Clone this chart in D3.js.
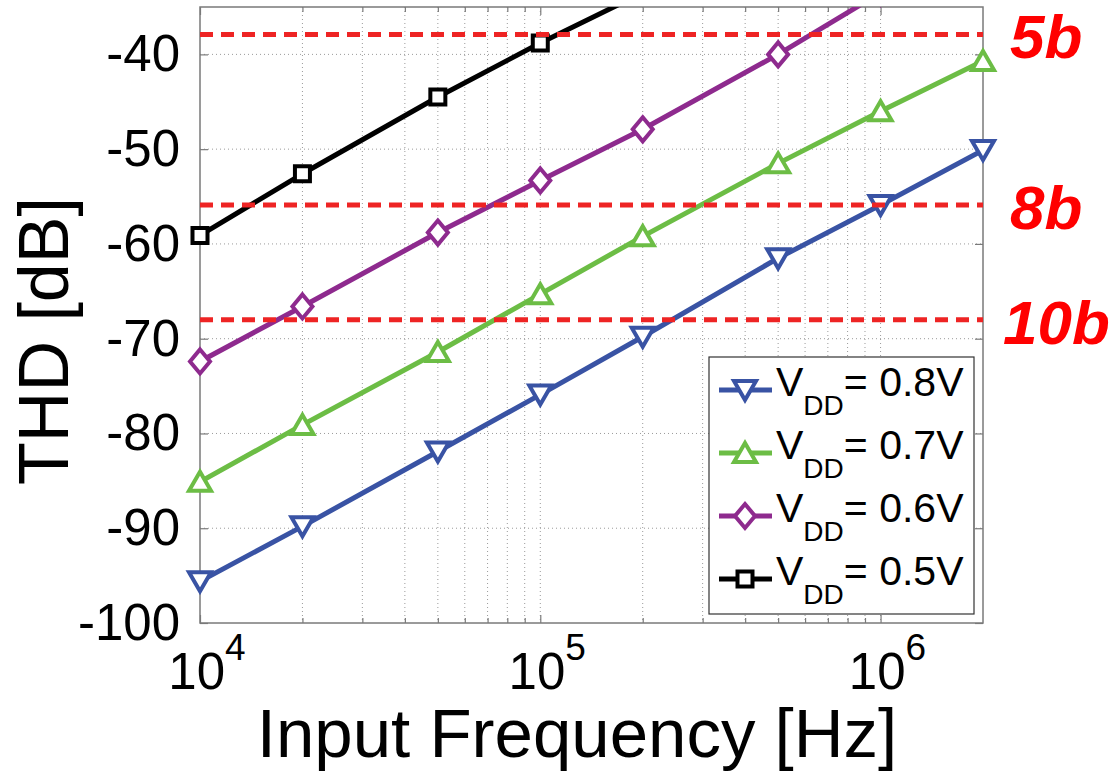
<!DOCTYPE html>
<html>
<head>
<meta charset="utf-8">
<script src="https://cdn.jsdelivr.net/npm/d3@7"></script>
<style>
  html, body { margin: 0; padding: 0; background: #fff; }
  svg { display: block; font-family: Arial, "Liberation Sans", sans-serif; }
</style>
</head>
<body>
<svg id="chart" width="1110" height="772"></svg>
<script>
// data
const freqs = [1e4, 2e4, 5e4, 1e5, 2e5, 5e5, 1e6, 2e6]
const thd08 = [-95.6, -89.8, -81.9, -75.9, -69.8, -61.5, -55.9, -50.1]
const thd07 = [-85.1, -79.1, -71.4, -65.3, -59.2, -51.5, -46.0, -40.7]
const thd06 = [-72.4, -66.6, -58.8, -53.3, -47.9, -40.0, -33.5]
const thd05 = [-59.1, -52.6, -44.5, -38.8, -33.5]
const seriesLabels = ['0.8V', '0.7V', '0.6V', '0.5V']
const bitLabels = ['5b', '8b', '10b']
const bitLevels = [-37.9, -55.9, -68.0]
const yTicks = [-100, -90, -80, -70, -60, -50, -40]
const xMajor = [1e4, 1e5, 1e6]

// styles
const colors = ['#3953a4', '#6cbd45', '#8e2a8e', '#000000']
const markers = ['down', 'up', 'diamond', 'square']

const svg = d3.select('#chart')
const pLeft = 200, pRight = 983, pTop = 7, pBottom = 623

const x = d3.scaleLog().domain([1e4, 2e6]).range([pLeft, pRight])
const y = d3.scaleLinear().domain([-100, -35]).range([pBottom, pTop])

// minor ticks 2..9 per decade
let xMinor = []
for (let d = 1e4; d < 2e6; d *= 10) {
  for (let k = 2; k <= 9; k++) if (d * k < 2e6) xMinor.push(d * k)
}
let xGrid = xMinor.concat([1e5, 1e6])

let defs = svg.append('defs')
// lines are cut at the box, markers only at the top
defs.append('clipPath').attr('id', 'lineclip')
  .append('rect').attr('x', pLeft).attr('y', pTop)
  .attr('width', pRight - pLeft).attr('height', pBottom - pTop)
defs.append('clipPath').attr('id', 'markclip')
  .append('rect').attr('x', pLeft - 30).attr('y', pTop)
  .attr('width', pRight - pLeft + 60).attr('height', pBottom - pTop + 30)

// grid
let grid = svg.append('g').attr('stroke', '#9a9a9a').attr('stroke-width', 1)
  .attr('stroke-dasharray', '1,3')
grid.selectAll('.gx').data(xGrid).join('line')
  .attr('x1', d => x(d)).attr('x2', d => x(d))
  .attr('y1', pTop).attr('y2', pBottom)
grid.selectAll('.gy').data(yTicks.filter(d => d > -100)).join('line')
  .attr('x1', pLeft).attr('x2', pRight)
  .attr('y1', d => y(d)).attr('y2', d => y(d))

// axes (ticks inside like matlab)
let axisColor = '#7a7a7a'
let styleAxis = function (g) {
  g.select('.domain').remove()
  g.selectAll('.tick line').attr('stroke', axisColor).attr('stroke-width', 1.2)
}

svg.append('g').attr('transform', `translate(${pLeft},0)`)
  .call(d3.axisLeft(y).tickValues(yTicks).tickSizeInner(-8).tickSizeOuter(0)
    .tickPadding(20).tickFormat(d => String(d)))
  .call(styleAxis)
  .call(g => g.selectAll('text').attr('font-size', 51).attr('fill', '#000')
    .attr('font-family', 'Arial, "Liberation Sans", sans-serif'))

svg.append('g').attr('transform', `translate(${pRight},0)`)
  .call(d3.axisRight(y).tickValues(yTicks).tickSizeInner(-8).tickSizeOuter(0).tickFormat(''))
  .call(styleAxis)

svg.append('g').attr('transform', `translate(0,${pBottom})`)
  .call(d3.axisBottom(x).tickValues(xMajor).tickSizeInner(-8).tickSizeOuter(0).tickFormat(''))
  .call(styleAxis)
svg.append('g').attr('transform', `translate(0,${pBottom})`)
  .call(d3.axisBottom(x).tickValues(xMinor).tickSizeInner(-5).tickSizeOuter(0).tickFormat(''))
  .call(styleAxis)
svg.append('g').attr('transform', `translate(0,${pTop})`)
  .call(d3.axisTop(x).tickValues(xMajor).tickSizeInner(-8).tickSizeOuter(0).tickFormat(''))
  .call(styleAxis)
svg.append('g').attr('transform', `translate(0,${pTop})`)
  .call(d3.axisTop(x).tickValues(xMinor).tickSizeInner(-5).tickSizeOuter(0).tickFormat(''))
  .call(styleAxis)

// x tick labels 10^n
let xl = svg.append('g').selectAll('g').data(xMajor).join('g')
xl.append('text')
  .attr('x', d => x(d) + 25).attr('y', 689)
  .attr('text-anchor', 'end').attr('font-size', 51)
  .text('10')
xl.append('text')
  .attr('x', d => x(d) + 25).attr('y', 660)
  .attr('font-size', 37)
  .text(d => Math.round(Math.log10(d)))

// box
svg.append('rect').attr('x', pLeft).attr('y', pTop)
  .attr('width', pRight - pLeft).attr('height', pBottom - pTop)
  .attr('fill', 'none').attr('stroke', axisColor).attr('stroke-width', 1.5)

// markers
let markerPath = function (type) {
  let p = d3.path()
  if (type === 'down') {
    p.moveTo(-11, -9); p.lineTo(11, -9); p.lineTo(0, 10); p.closePath()
  } else if (type === 'up') {
    p.moveTo(-11, 9); p.lineTo(11, 9); p.lineTo(0, -10); p.closePath()
  } else if (type === 'diamond') {
    p.moveTo(0, -12); p.lineTo(10, 0); p.lineTo(0, 12); p.lineTo(-10, 0); p.closePath()
  } else {
    p.rect(-7.5, -7.5, 15, 15)
  }
  return p.toString()
}

let allSeries = [thd08, thd07, thd06, thd05]
let line = d3.line().x(d => x(d[0])).y(d => y(d[1]))

let lines = svg.append('g').attr('clip-path', 'url(#lineclip)')
let marks = svg.append('g').attr('clip-path', 'url(#markclip)')
allSeries.forEach((vals, i) => {
  let pts = vals.map((v, j) => [freqs[j], v])
  lines.append('path').datum(pts)
    .attr('d', line).attr('fill', 'none')
    .attr('stroke', colors[i]).attr('stroke-width', 5)
    .attr('stroke-linejoin', 'round')
})
allSeries.forEach((vals, i) => {
  let pts = vals.map((v, j) => [freqs[j], v])
  marks.selectAll(null).data(pts).join('path')
    .attr('transform', d => `translate(${x(d[0])},${y(d[1])})`)
    .attr('d', markerPath(markers[i]))
    .attr('fill', '#fff').attr('stroke', colors[i]).attr('stroke-width', 4)
    .attr('stroke-linejoin', 'miter')
})

// bit level dashed lines on top
svg.append('g').selectAll('line').data(bitLevels).join('line')
  .attr('x1', pLeft).attr('x2', pRight)
  .attr('y1', d => y(d)).attr('y2', d => y(d))
  .attr('stroke', '#ee2424').attr('stroke-width', 5)
  .attr('stroke-dasharray', '13,8')

svg.append('g').selectAll('text').data(bitLabels).join('text')
  .attr('x', (d, i) => i === 2 ? 1003 : 1010)
  .attr('y', (d, i) => y(bitLevels[i]) + 24)
  .attr('fill', '#ff0000').attr('font-size', 62)
  .attr('font-weight', 'bold').attr('font-style', 'italic')
  .text(d => d)

// axis titles
svg.append('text').attr('x', 577).attr('y', 757)
  .attr('text-anchor', 'middle').attr('font-size', 69)
  .text('Input Frequency [Hz]')
svg.append('text')
  .attr('transform', 'translate(68,341) rotate(-90)')
  .attr('text-anchor', 'middle').attr('font-size', 70)
  .text('THD [dB]')

// legend
let lg = svg.append('g')
lg.append('rect').attr('x', 709).attr('y', 357).attr('width', 265).attr('height', 257)
  .attr('fill', '#fff').attr('stroke', '#333').attr('stroke-width', 1.2)
let rows = lg.selectAll('g.row').data(seriesLabels).join('g')
  .attr('transform', (d, i) => `translate(0,${390 + i * 63})`)
rows.append('line').attr('x1', 719).attr('x2', 772)
  .attr('stroke', (d, i) => colors[i]).attr('stroke-width', 5)
rows.append('path')
  .attr('transform', 'translate(745,0)')
  .attr('d', (d, i) => markerPath(markers[i]))
  .attr('fill', '#fff').attr('stroke', (d, i) => colors[i]).attr('stroke-width', 4)
let lt = rows.append('text').attr('x', 776).attr('y', 6).attr('font-size', 41)
lt.append('tspan').text('V')
lt.append('tspan').attr('font-size', 28).attr('dy', 19).text('DD')
lt.append('tspan').attr('dy', -19).text(d => '= ' + d)
</script>
</body>
</html>
